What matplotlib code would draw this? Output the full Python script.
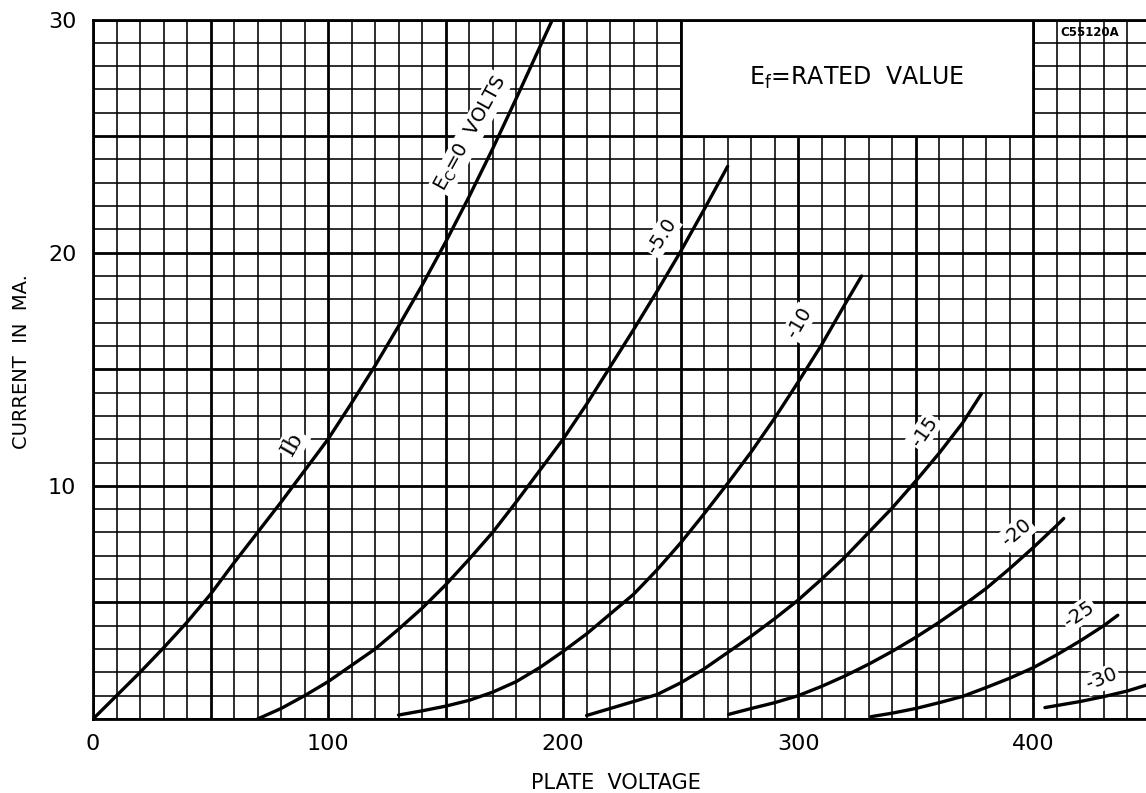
import matplotlib
matplotlib.use("Agg")
import matplotlib.pyplot as plt
from matplotlib.ticker import MultipleLocator, FuncFormatter
from matplotlib.patches import Rectangle

plt.rcParams['font.family'] = ['DejaVu Sans']

# ---- data (plate voltage V, plate current mA) ----
ec0_v = [0, 10, 20, 30, 40, 50, 60, 70, 80, 90, 100, 110, 120, 130, 140, 150, 160, 170, 180, 190, 195.5]
ec0_i = [0, 1.0, 2.0, 3.05, 4.15, 5.35, 6.7, 8.0, 9.3, 10.65, 12.0, 13.55, 15.15, 16.85, 18.6, 20.45, 22.4, 24.45, 26.6, 28.8, 30.0]

ec5_v = [70, 80, 90, 100, 110, 120, 130, 140, 150, 160, 170, 180, 190, 200, 210, 220, 230, 240, 250, 260, 270]
ec5_i = [0, 0.45, 1.0, 1.6, 2.3, 3.0, 3.85, 4.75, 5.75, 6.85, 8.0, 9.3, 10.65, 12.0, 13.5, 15.1, 16.7, 18.35, 20.05, 21.85, 23.7]

ec10_v = [130, 140, 150, 160, 170, 180, 190, 200, 210, 220, 230, 240, 250, 260, 270, 280, 290, 300, 310, 320, 327]
ec10_i = [0.17, 0.35, 0.55, 0.8, 1.15, 1.6, 2.2, 2.9, 3.65, 4.5, 5.35, 6.4, 7.55, 8.8, 10.1, 11.45, 12.9, 14.45, 16.05, 17.8, 19.0]

ec15_v = [210, 220, 230, 240, 250, 260, 270, 280, 290, 300, 310, 320, 330, 340, 350, 360, 370, 378]
ec15_i = [0.15, 0.45, 0.75, 1.05, 1.55, 2.15, 2.85, 3.55, 4.3, 5.1, 6.0, 6.95, 8.0, 9.05, 10.2, 11.4, 12.7, 13.95]

ec20_v = [270.5, 280, 290, 300, 310, 320, 330, 340, 350, 360, 370, 380, 390, 400, 410, 413]
ec20_i = [0.2, 0.45, 0.7, 1.0, 1.4, 1.85, 2.35, 2.9, 3.5, 4.15, 4.85, 5.6, 6.45, 7.35, 8.3, 8.6]

ec25_v = [331, 340, 350, 360, 370, 380, 390, 400, 410, 420, 430, 436]
ec25_i = [0.1, 0.25, 0.45, 0.7, 0.97, 1.35, 1.75, 2.2, 2.75, 3.35, 4.0, 4.45]

ec30_v = [405, 420, 430, 440, 448]
ec30_i = [0.49, 0.75, 0.96, 1.2, 1.45]

curves = [(ec0_v, ec0_i), (ec5_v, ec5_i), (ec10_v, ec10_i), (ec15_v, ec15_i),
          (ec20_v, ec20_i), (ec25_v, ec25_i), (ec30_v, ec30_i)]

# curve labels: text, V, mA, rotation, size
curve_labels = [
    (r"E$_\mathregular{C}$=0  VOLTS", 160.8, 25.12, 61, 14),
    ("-5.0", 242.0, 20.72, 57, 14),
    ("-10", 300.5, 17.0, 60, 14),
    ("-15", 353.7, 12.32, 55, 14),
    ("-20", 393.0, 7.98, 40, 14),
    ("-25", 419.5, 4.5, 34, 14),
    ("-30", 429.3, 1.7, 22, 14),
]

x_ticks = [0, 100, 200, 300, 400]
y_ticks = [10, 20, 30]

W, H = 1146, 793
fig = plt.figure(figsize=(W / 100, H / 100), dpi=100)
ax = fig.add_axes([93 / W, 1 - 719 / H, (W - 93) / W, 699.5 / H])
ax.set_xlim(0, 448)
ax.set_ylim(0, 30)

ax.xaxis.set_major_locator(MultipleLocator(50))
ax.xaxis.set_minor_locator(MultipleLocator(10))
ax.yaxis.set_major_locator(MultipleLocator(5))
ax.yaxis.set_minor_locator(MultipleLocator(1))
ax.xaxis.set_major_formatter(FuncFormatter(lambda v, p: f"{int(round(v))}" if int(round(v)) in x_ticks else ""))
ax.yaxis.set_major_formatter(FuncFormatter(lambda v, p: f"{int(round(v))}" if int(round(v)) in y_ticks else ""))
ax.tick_params(which='both', length=0)
ax.tick_params(axis='x', pad=11, labelsize=16)
ax.tick_params(axis='y', pad=12, labelsize=16)

ax.grid(which='minor', color='black', lw=1.15, zorder=1)
ax.grid(which='major', color='black', lw=2.0, zorder=1)
ax.set_axisbelow(True)

for s in ['left', 'bottom', 'top']:
    ax.spines[s].set_linewidth(2.0)
ax.spines['right'].set_visible(False)

# Ef box
ax.add_patch(Rectangle((250, 25), 150, 5, facecolor='white', edgecolor='black', lw=2.0, zorder=2))
ax.text(325, 27.5, r"E$_\mathregular{f}$=RATED  VALUE", ha='center', va='center', fontsize=17, zorder=3)
ax.text(424, 29.45, "C55120A", ha='center', va='center', fontsize=8.5, fontweight='bold', zorder=3)

for txt, xv, yv, rot, fs in curve_labels:
    ax.text(xv, yv, txt, rotation=rot, rotation_mode='anchor', ha='center', va='center',
            fontsize=fs, zorder=3,
            bbox=dict(boxstyle='square,pad=0.1', facecolor='white', edgecolor='none'))

ax.text(85.0, 11.8, "Ib", rotation=60, rotation_mode='anchor', ha='center', va='center',
        fontsize=16, family='DejaVu Serif', zorder=3,
        bbox=dict(boxstyle='square,pad=0.1', facecolor='white', edgecolor='none'))

for v, i in curves:
    ax.plot(v, i, color='black', lw=2.4, solid_capstyle='round', zorder=4)

ax.set_xlabel("PLATE  VOLTAGE", fontsize=15)
ax.set_ylabel("CURRENT  IN  MA.", fontsize=14)
ax.xaxis.set_label_coords((616 - 93) / 1053, (719 - 773) / 699.5)
ax.yaxis.set_label_coords((31 - 93) / 1053, (719 - 362) / 699.5)

fig.savefig("out.png", dpi=100, facecolor='white')
